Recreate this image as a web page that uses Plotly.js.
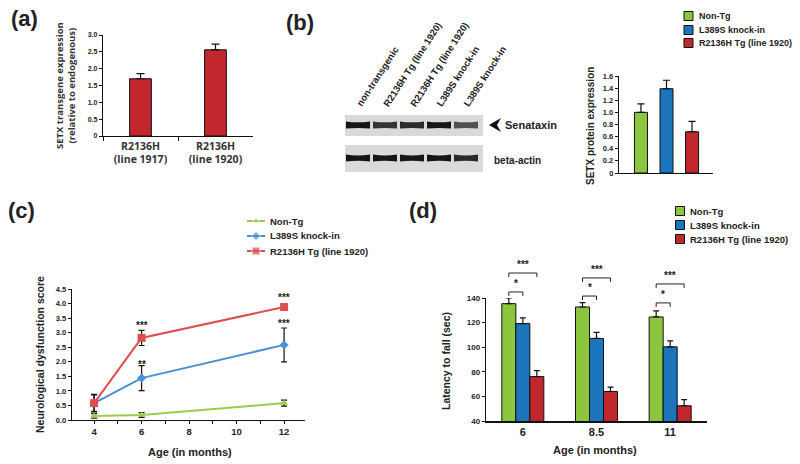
<!DOCTYPE html>
<html><head><meta charset="utf-8">
<script src="https://cdn.plot.ly/plotly-3.0.1.min.js"></script>
<style>html,body{margin:0;padding:0;background:#fff}#chart{width:800px;height:464px}</style>
</head><body><div id="chart"></div>
<script>
// ---------------- data ----------------
const aCats = ['R2136H<br>(line 1917)', 'R2136H<br>(line 1920)'];
const aValues = [1.70, 2.56];
const aErrors = [0.15, 0.17];

const bGroups = ['Non-Tg', 'L389S knock-in', 'R2136H Tg (line 1920)'];
const bValues = [1.00, 1.39, 0.68];
const bErrors = [0.14, 0.14, 0.17];

const blotLanes = ['non-transgenic', 'R2136H Tg (line 1920)', 'R2136H Tg (line 1920)', 'L389S knock-in', 'L389S knock-in'];
const blotSenataxin = [1.0, 0.85, 0.9, 1.0, 0.7];
const blotActin = [1.0, 1.0, 1.0, 1.0, 0.9];

const cAges = [4, 6, 12];
const cNonTg = [0.14, 0.17, 0.58];
const cNonTgErr = [0.08, 0.08, 0.10];
const cL389S = [0.58, 1.44, 2.58];
const cL389SErr = [0.30, 0.43, 0.58];
const cR2136H = [0.58, 2.82, 3.88];
const cR2136HErr = [0.28, 0.26, 0.10];
const cSigX = [6, 6, 12, 12];
const cSigY = [3.23, 1.92, 4.22, 3.33];
const cSigText = ['***', '**', '***', '***'];

const dAges = ['6', '8.5', '11'];
const dNonTg = [135.4, 132.7, 124.6];
const dNonTgErr = [4.6, 3.5, 4.9];
const dL389S = [119.2, 107.1, 100.3];
const dL389SErr = [4.6, 4.9, 4.8];
const dR2136H = [76.1, 64.0, 52.4];
const dR2136HErr = [4.9, 3.5, 4.9];
const dSigNearY = [144.9, 141.6, 136.0];
const dSigNearText = ['*', '*', '*'];
const dSigFarY = [160.3, 156.3, 151.4];
const dSigFarText = ['***', '***', '***'];

// ---------------- styling ----------------
const W = 800, H = 464;
const px = x => x / W, py = y => (H - y) / H;
const F = 'Liberation Sans, Arial, sans-serif';
const FC = 'Open Sans, Liberation Sans, sans-serif';
const GREEN = '#8cc63f', BLUE = '#1b75bc', RED = '#c1272d';
const LGREEN = '#9dcb4b', LBLUE = '#4b8fd6', LRED = '#dc4f4f';
const zeros = a => a.map(() => 0);

const domA = {x: [px(103), px(253)], y: [py(136), py(35)]};
const domB = {x: [px(619), px(713)], y: [py(173), py(76)]};
const domC = {x: [px(72), px(305)], y: [py(420), py(289)]};
const domD = {x: [px(486), px(707)], y: [py(421), py(298)]};
const dRange = [40, 140];
const pyD = v => domD.y[0] + (v - dRange[0]) / (dRange[1] - dRange[0]) * (domD.y[1] - domD.y[0]);

function ticksOf(lo, hi, step, dec, zeroTxt) {
  const vals = [], txt = [];
  for (let v = lo; v <= hi + 1e-9; v += step) {
    vals.push(+v.toFixed(4));
    txt.push(Math.abs(v) < 1e-9 && zeroTxt !== undefined ? zeroTxt : v.toFixed(dec));
  }
  return {vals, txt};
}
function yAx(dom, anchor, range, t, size) {
  return {domain: dom, anchor, range, tickvals: t.vals, ticktext: t.txt,
    showline: true, linecolor: '#111', linewidth: 1.2, ticks: 'outside', ticklen: 3,
    tickwidth: 1, tickcolor: '#111', tickfont: {family: F, size, color: '#222', weight: 'bold'},
    showgrid: false, zeroline: false, fixedrange: true};
}

const ta = ticksOf(0, 3, 0.5, 1, '0');
const tb = ticksOf(0, 1.6, 0.2, 1, '0');
const tc = ticksOf(0, 4.5, 0.5, 1);
const td = ticksOf(40, 140, 20, 0);

const errBar = (arr, w) => ({type: 'data', symmetric: false, array: arr, arrayminus: zeros(arr),
  color: '#111', thickness: 1.2, width: w});
const errSym = (arr) => ({type: 'data', array: arr, color: '#111', thickness: 1.2, width: 3});

const traces = [];
// (a)
traces.push({type: 'bar', x: aCats, y: aValues, xaxis: 'x', yaxis: 'y', width: 0.29, offset: -0.145,
  marker: {color: RED, line: {color: '#111', width: 1}}, error_y: errBar(aErrors, 4), showlegend: false});
// (b)
const bColors = [GREEN, BLUE, RED];
bGroups.forEach((g, i) => traces.push({type: 'bar', name: g, x: [i], y: [bValues[i]], xaxis: 'x2', yaxis: 'y2',
  width: 0.51, offset: -0.255, marker: {color: bColors[i], line: {color: '#111', width: 1}},
  error_y: errBar([bErrors[i]], 3.5), showlegend: false}));
// (c)
const cSeries = [
  {y: cNonTg, e: cNonTgErr, c: LGREEN, s: 'triangle-up', sz: 7},
  {y: cL389S, e: cL389SErr, c: LBLUE, s: 'diamond', sz: 7},
  {y: cR2136H, e: cR2136HErr, c: LRED, s: 'square', sz: 8}];
cSeries.forEach((s, i) => traces.push({type: 'scatter', mode: 'lines+markers', x: cAges, y: s.y, xaxis: 'x3', yaxis: 'y3',
  name: bGroups[i], line: {color: s.c, width: 2}, marker: {color: s.c, symbol: s.s, size: s.sz},
  error_y: errSym(s.e), showlegend: false, cliponaxis: false}));
// (d)
const dSeries = [[dNonTg, dNonTgErr, GREEN], [dL389S, dL389SErr, BLUE], [dR2136H, dR2136HErr, RED]];
const dW = 0.19;
dSeries.forEach((s, i) => traces.push({type: 'bar', name: bGroups[i], x: dAges, y: s[0], xaxis: 'x4', yaxis: 'y4',
  width: dW, offset: -1.5 * dW + i * dW, base: 0,
  marker: {color: s[2], line: {color: '#111', width: 1}}, error_y: errBar(s[1], 3), showlegend: false}));

// legend markers on a full-canvas pixel overlay axis pair
const legB = {x: 688.5, y: [16, 30, 43]};
const legC = {x: [247, 256, 265], y: [221, 236, 251]};
const legD = {x: 680, y: [211, 225, 239]};
bGroups.forEach((g, i) => {
  traces.push({type: 'scatter', mode: 'markers', x: [legB.x], y: [legB.y[i]], xaxis: 'x5', yaxis: 'y5',
    marker: {symbol: 'square', size: 9, color: bColors[i], line: {color: '#111', width: 1}}, showlegend: false, cliponaxis: false});
  traces.push({type: 'scatter', mode: 'markers', x: [legD.x], y: [legD.y[i]], xaxis: 'x5', yaxis: 'y5',
    marker: {symbol: 'square', size: 9, color: bColors[i], line: {color: '#111', width: 1}}, showlegend: false, cliponaxis: false});
  traces.push({type: 'scatter', mode: 'lines+markers', x: legC.x, y: [legC.y[i], legC.y[i], legC.y[i]], xaxis: 'x5', yaxis: 'y5',
    line: {color: cSeries[i].c, width: 2}, marker: {symbol: cSeries[i].s, color: cSeries[i].c, size: [0, cSeries[i].sz, 0]},
    showlegend: false, cliponaxis: false});
});

// ---------------- annotations ----------------
const ann = [];
const txt = (x, y, text, o) => ann.push(Object.assign({xref: 'paper', yref: 'paper', x: px(x), y: py(y), text,
  showarrow: false, xanchor: 'center', yanchor: 'middle', font: {family: F, size: 10, color: '#222', weight: 'bold'}}, o || {}));
// panel labels
[['(a)', 24, 19], ['(b)', 300, 22], ['(c)', 21, 210], ['(d)', 423, 210]].forEach(l =>
  txt(l[1], l[2], l[0], {font: {family: F, size: 22, color: '#222', weight: 'bold'}}));
// axis titles
txt(66, 86, 'SETX transgene expression<br>(relative to endogenous)', {textangle: -90, font: {family: FC, size: 9.5, color: '#333', weight: 'bold'}});
txt(590, 126, 'SETX protein expression', {textangle: -90, font: {family: F, size: 10, color: '#222', weight: 'bold'}});
txt(40, 355, 'Neurological dysfunction score', {textangle: -90, font: {family: F, size: 10.5, color: '#222', weight: 'bold'}});
txt(446, 361, 'Latency to fall (sec)', {textangle: -90, font: {family: F, size: 10.5, color: '#222', weight: 'bold'}});
txt(190, 452, 'Age (in months)', {font: {family: F, size: 11, color: '#222', weight: 'bold'}});
txt(595, 450, 'Age (in months)', {font: {family: F, size: 11, color: '#222', weight: 'bold'}});
// legend texts
bGroups.forEach((g, i) => {
  txt(697, legB.y[i], g, {xanchor: 'left', font: {family: F, size: 9, color: '#222', weight: 'bold'}});
  txt(268, legC.y[i], g, {xanchor: 'left', font: {family: F, size: 9.5, color: '#222', weight: 'bold'}});
  txt(688, legD.y[i], g, {xanchor: 'left', font: {family: F, size: 9.5, color: '#222', weight: 'bold'}});
});
// blot labels
const laneX = [358, 385, 412, 439, 466];
blotLanes.forEach((l, i) => txt(laneX[i] - 7, 111, l, {xanchor: 'left', yanchor: 'bottom', textangle: -57,
  font: {family: F, size: 9.5, color: '#222', weight: 'bold'}}));
txt(503, 125, 'Senataxin', {xanchor: 'left', font: {family: F, size: 11, color: '#222', weight: 'bold'}});
txt(492, 160, 'beta-actin', {xanchor: 'left', font: {family: F, size: 10, color: '#222', weight: 'bold'}});
// (c) significance
cSigX.forEach((x, i) => ann.push({xref: 'x3', yref: 'y3', x, y: cSigY[i], text: cSigText[i], showarrow: false,
  font: {family: F, size: 10, color: '#222', weight: 'bold'}}));
// (d) significance brackets
const shapes = [];
const tick = 4 / H;
dAges.forEach((g, i) => {
  const xg = i - dW, xb = i, xr = i + dW;
  const yn = pyD(dSigNearY[i]), yf = pyD(dSigFarY[i]);
  shapes.push({type: 'path', xref: 'x4', yref: 'paper', path: `M${xg},${yn - tick} L${xg},${yn} L${xb},${yn} L${xb},${yn - tick}`, line: {color: '#222', width: 1}});
  shapes.push({type: 'path', xref: 'x4', yref: 'paper', path: `M${xg},${yf - tick} L${xg},${yf} L${xr},${yf} L${xr},${yf - tick}`, line: {color: '#222', width: 1}});
  ann.push({xref: 'x4', yref: 'paper', x: (xg + xb) / 2, y: yn + 1 / H, yanchor: 'bottom', text: dSigNearText[i], showarrow: false, font: {family: F, size: 10, color: '#222', weight: 'bold'}});
  ann.push({xref: 'x4', yref: 'paper', x: (xg + xr) / 2, y: yf + 1 / H, yanchor: 'bottom', text: dSigFarText[i], showarrow: false, font: {family: F, size: 10, color: '#222', weight: 'bold'}});
});
// western blot
const rect = (x0, y0, x1, y1, fill) => shapes.push({type: 'rect', xref: 'paper', yref: 'paper',
  x0: px(x0), x1: px(x1), y0: py(y1), y1: py(y0), fillcolor: fill, line: {width: 0}, layer: 'below'});
rect(345, 115, 483, 136, '#d9d9d9');
rect(345, 145, 483, 172, '#dadada');
const band = (x, yc, hw, hh, op) => shapes.push({type: 'path', xref: 'paper', yref: 'paper', fillcolor: '#161616', opacity: op,
  line: {width: 0}, path: `M${px(x - hw)},${py(yc - hh)} Q${px(x)},${py(yc - hh * 0.5)} ${px(x + hw)},${py(yc - hh)} ` +
  `L${px(x + hw)},${py(yc + hh)} Q${px(x)},${py(yc + hh * 0.6)} ${px(x - hw)},${py(yc + hh)} Z`});
laneX.forEach((x, i) => {
  band(x, 125, 12, 3.6, blotSenataxin[i]);
  band(x, 158, 12, 3.4, blotActin[i]);
});
shapes.push({type: 'path', xref: 'paper', yref: 'paper', fillcolor: '#111', line: {width: 0},
  path: `M${px(489)},${py(125)} L${px(501)},${py(118)} L${px(497)},${py(125)} L${px(501)},${py(132)} Z`});

const layout = {
  width: W, height: H, margin: {l: 0, r: 0, t: 0, b: 0}, paper_bgcolor: '#fff', plot_bgcolor: 'rgba(0,0,0,0)',
  showlegend: false, barmode: 'group',
  xaxis: {domain: domA.x, anchor: 'y', type: 'category', range: [-0.5, 1.5], showline: true, linecolor: '#111', linewidth: 1.2,
    ticks: 'outside', tickson: 'boundaries', ticklen: 4, tickcolor: '#111', showgrid: false, zeroline: false,
    tickfont: {family: FC, size: 10.5, color: '#333', weight: 'bold'}, fixedrange: true},
  yaxis: yAx(domA.y, 'x', [0, 3], ta, 7),
  xaxis2: {domain: domB.x, anchor: 'y2', range: [-0.86, 2.82], showline: true, linecolor: '#111', linewidth: 1.2,
    showticklabels: false, ticks: '', showgrid: false, zeroline: false, fixedrange: true},
  yaxis2: yAx(domB.y, 'x2', [0, 1.6], tb, 7.5),
  xaxis3: {domain: domC.x, anchor: 'y3', range: [3.07, 12.88], tickvals: [4, 6, 8, 10, 12], showline: true, linecolor: '#111', linewidth: 1.2,
    ticks: 'outside', ticklen: 2, tickcolor: 'rgba(0,0,0,0)', minor: {dtick: 1, tick0: 3, ticks: 'outside', ticklen: 3, tickcolor: '#111'},
    tickfont: {family: F, size: 9.5, color: '#222', weight: 'bold'}, showgrid: false, zeroline: false, fixedrange: true},
  yaxis3: yAx(domC.y, 'x3', [0, 4.5], tc, 7.5),
  xaxis4: {domain: domD.x, anchor: 'y4', type: 'category', range: [-0.5, 2.5], showline: true, linecolor: '#111', linewidth: 1.6,
    ticks: '', showgrid: false, zeroline: false, tickfont: {family: F, size: 11, color: '#222', weight: 'bold'}, fixedrange: true},
  yaxis4: yAx(domD.y, 'x4', dRange, td, 8),
  xaxis5: {domain: [0, 1], anchor: 'y5', range: [0, W], visible: false, fixedrange: true},
  yaxis5: {domain: [0, 1], anchor: 'x5', range: [H, 0], visible: false, fixedrange: true},
  annotations: ann, shapes: shapes
};
Plotly.newPlot('chart', traces, layout, {staticPlot: true, displayModeBar: false});
</script></body></html>
